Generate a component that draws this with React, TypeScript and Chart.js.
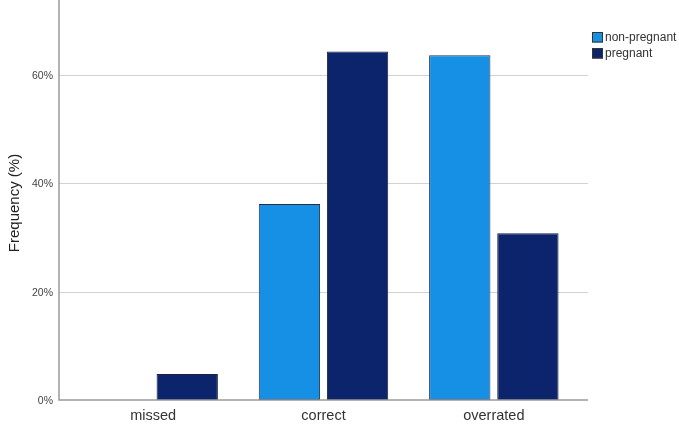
import React, { useEffect, useRef } from "react";
import { Chart, registerables } from "chart.js";

Chart.register(...registerables);

const categories = ["missed", "correct", "overrated"];
const nonPregnant = [0, 36.2, 63.7];
const pregnant = [4.8, 64.4, 30.8];
const yTicks = [0, 20, 40, 60];
const seriesLabels = ["non-pregnant", "pregnant"];
const seriesColors = ["#1690E4", "#0B246B"];

const FONT = "'Liberation Sans', Arial, sans-serif";

const customPlugin = {
  id: "spssLook",
  beforeDatasetsDraw(chart: any) {
    const { ctx, chartArea, scales } = chart;
    const y = scales.y;
    const left = chartArea.left - 9;
    const right = chartArea.right + 9;
    ctx.save();
    ctx.strokeStyle = "#d2d2d2";
    ctx.lineWidth = 1;
    yTicks.forEach((v) => {
      if (v === 0) return;
      const py = Math.round(y.getPixelForValue(v)) + 0.5;
      ctx.beginPath();
      ctx.moveTo(left, py);
      ctx.lineTo(right, py);
      ctx.stroke();
    });
    ctx.restore();
  },
  afterDatasetsDraw(chart: any) {
    const { ctx, chartArea, scales } = chart;
    const y = scales.y;
    const x = scales.x;
    const left = chartArea.left - 9;
    const right = chartArea.right + 9;
    const base = Math.round(y.getPixelForValue(0));
    ctx.save();
    ctx.strokeStyle = "#9a9a9a";
    ctx.lineWidth = 1.5;
    ctx.beginPath();
    ctx.moveTo(left, chartArea.top);
    ctx.lineTo(left, base);
    ctx.lineTo(right, base);
    ctx.stroke();
    // y tick labels
    ctx.fillStyle = "#444";
    ctx.font = `10.5px ${FONT}`;
    ctx.textAlign = "right";
    ctx.textBaseline = "middle";
    yTicks.forEach((v) => {
      ctx.fillText(`${v}%`, left - 6, y.getPixelForValue(v) + 1);
    });
    // y title
    ctx.save();
    ctx.translate(15, 203);
    ctx.rotate(-Math.PI / 2);
    ctx.fillStyle = "#222";
    ctx.font = `15px ${FONT}`;
    ctx.textAlign = "center";
    ctx.textBaseline = "middle";
    ctx.fillText("Frequency (%)", 0, 0);
    ctx.restore();
    // x labels
    ctx.fillStyle = "#333";
    ctx.font = `14.5px ${FONT}`;
    ctx.textAlign = "center";
    ctx.textBaseline = "middle";
    categories.forEach((c, i) => {
      ctx.fillText(c, x.getPixelForValue(i), base + 16);
    });
    // legend
    chart.data.datasets.forEach((ds: any, i: number) => {
      const ly = 32 + i * 16;
      ctx.fillStyle = ds.backgroundColor;
      ctx.fillRect(592, ly, 11, 10.5);
      ctx.strokeStyle = "#333";
      ctx.lineWidth = 1;
      ctx.strokeRect(592.5, ly + 0.5, 10, 9.5);
      ctx.fillStyle = "#333";
      ctx.font = `12px ${FONT}`;
      ctx.textAlign = "left";
      ctx.textBaseline = "middle";
      ctx.fillText(ds.label, 605, ly + 5.5);
    });
    ctx.restore();
  },
};

export default function App() {
  const ref = useRef<HTMLCanvasElement>(null);
  useEffect(() => {
    if (!ref.current) return;
    const chart = new Chart(ref.current, {
      type: "bar",
      data: {
        labels: categories,
        datasets: [
          {
            label: seriesLabels[0],
            data: nonPregnant,
            backgroundColor: seriesColors[0],
            borderColor: "#26304a",
            borderWidth: 1,
            borderSkipped: false,
            categoryPercentage: 0.8,
            barPercentage: 0.9,
          },
          {
            label: seriesLabels[1],
            data: pregnant,
            backgroundColor: seriesColors[1],
            borderColor: "#1a2340",
            borderWidth: 1,
            borderSkipped: false,
            categoryPercentage: 0.8,
            barPercentage: 0.9,
          },
        ],
      },
      options: {
        responsive: false,
        animation: false,
        layout: { padding: { left: 68, right: 100, top: 0, bottom: 25 } },
        plugins: { legend: { display: false }, tooltip: { enabled: false } },
        scales: {
          x: { display: false },
          y: { display: false, min: 0, max: 73.9 },
        },
      },
      plugins: [customPlugin],
    });
    return () => chart.destroy();
  }, []);
  return (
    <div style={{ position: "fixed", left: 0, top: 0, width: 679, height: 425, background: "#fff" }}>
      <canvas ref={ref} width={679} height={425} />
    </div>
  );
}
